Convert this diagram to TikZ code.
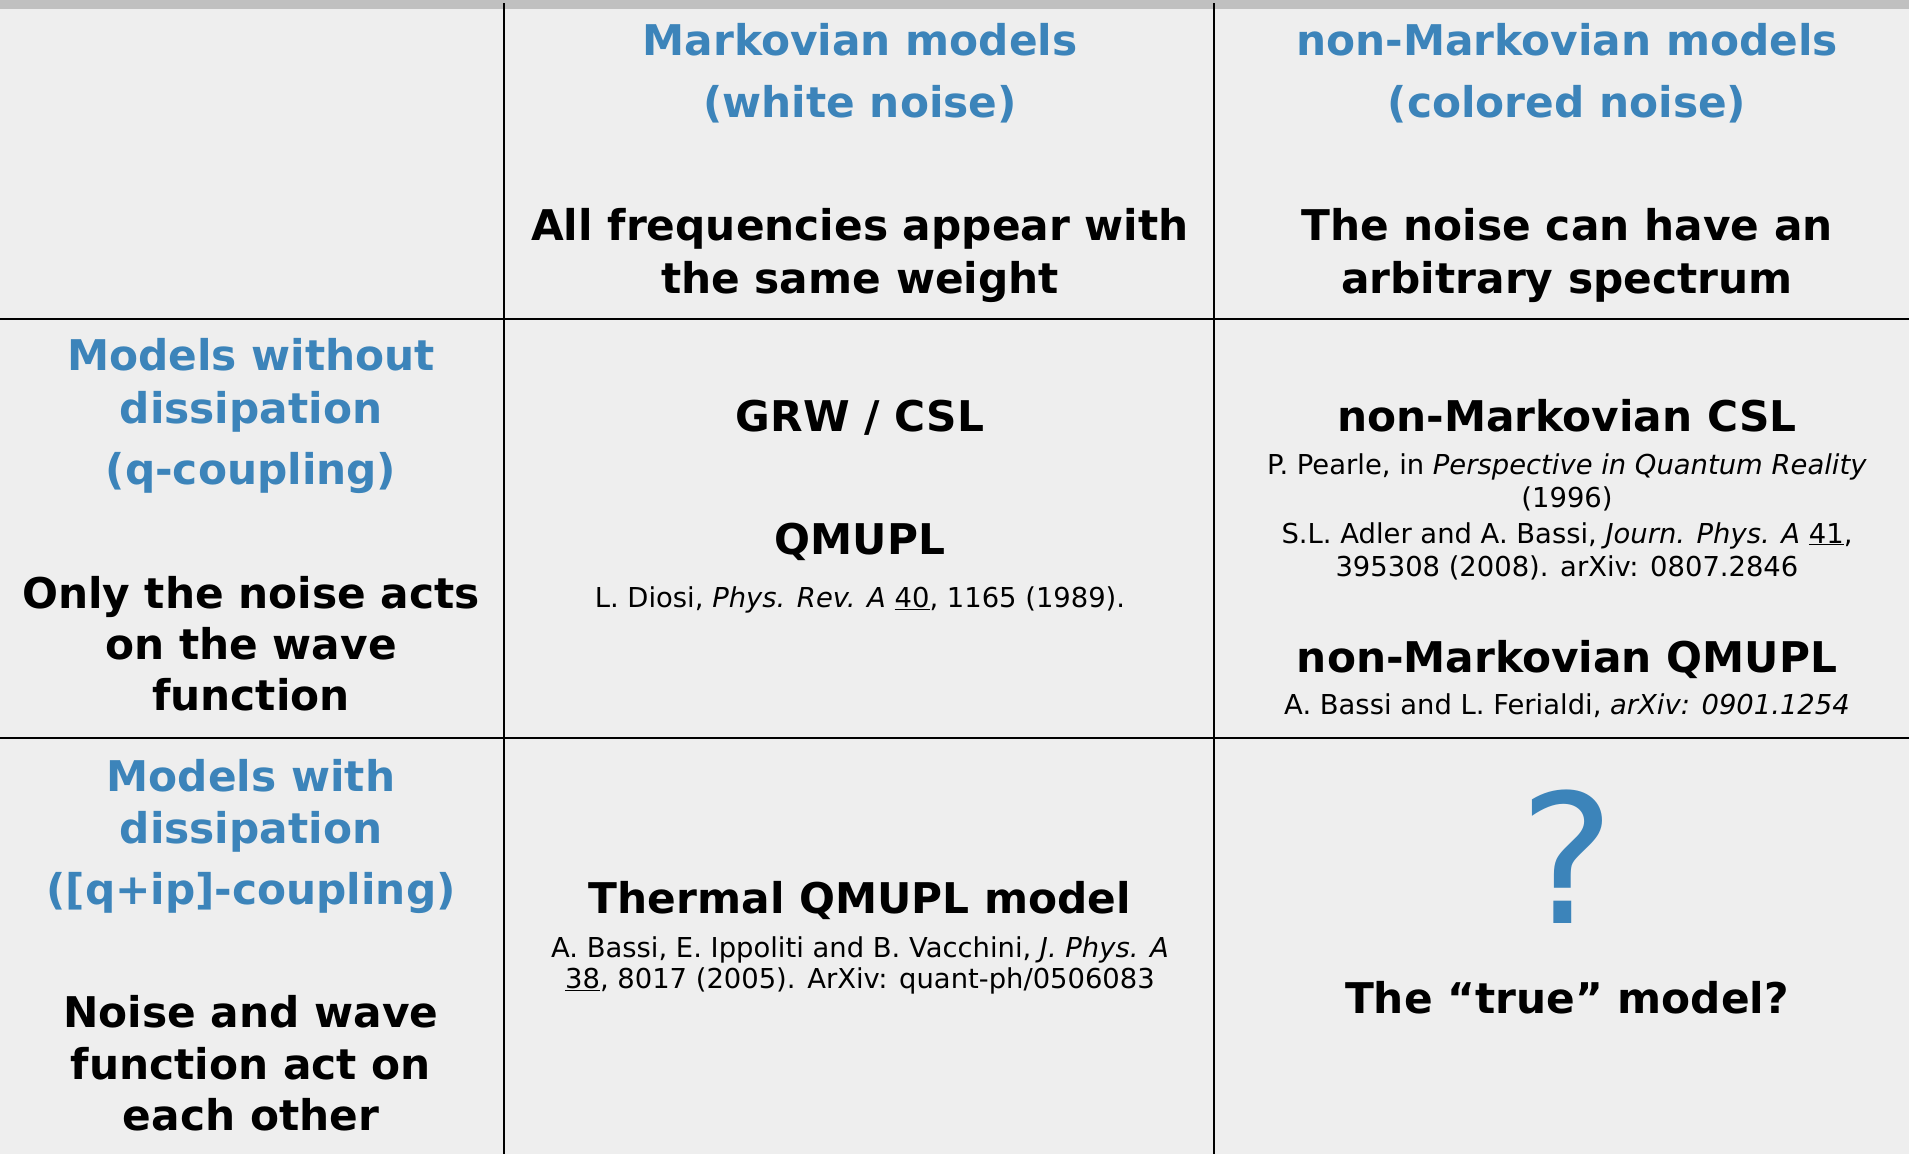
\documentclass[tikz,border=0pt]{standalone}
\usepackage{fontspec}
\setmainfont{DejaVu Sans}
\definecolor{headblue}{RGB}{60,132,186}
\definecolor{panel}{RGB}{238,238,238}
\definecolor{topbar}{RGB}{192,192,192}
\tikzset{
  head/.style={font=\fontsize{42.3}{52}\selectfont\bfseries, anchor=base, inner sep=0pt},
  bluehead/.style={head, text=headblue},
  cite/.style={font=\fontsize{27.4}{33}\selectfont, anchor=base, inner sep=0pt},
  rule/.style={line width=2.6pt, black}
}
\begin{document}
\begin{tikzpicture}[x=1pt,y=-1pt]
  % page and the grey strip along the top
  \fill[panel] (0,0) rectangle (1909,1154);
  \useasboundingbox (0,0) rectangle (1909,1154);
  \fill[topbar] (0,0) rectangle (1909,9);

  % table rules
  \draw[rule] (0,319) -- (1909,319);
  \draw[rule] (0,738) -- (1909,738);
  \draw[rule] (504,3) -- (504,1154);
  \draw[rule] (1214,3) -- (1214,1154);

  % column headers
  \node[bluehead] (mkA) at (860,55)  {Markovian models};
  \node[bluehead] (mkB) at (860,117) {(white noise)};
  \node[head]     (mkC) at (860,240) {All frequencies appear with};
  \node[head]     (mkD) at (860,293) {the same weight};

  \node[bluehead] (nmA) at (1567,55)  {non-Markovian models};
  \node[bluehead] (nmB) at (1567,117) {(colored noise)};
  \node[head]     (nmC) at (1567,240) {The noise can have an};
  \node[head]     (nmD) at (1567,293) {arbitrary spectrum};

  % row headers
  \node[bluehead] (r1A) at (251,370) {Models without};
  \node[bluehead] (r1B) at (251,423) {dissipation};
  \node[bluehead] (r1C) at (251,484) {(q-coupling)};
  \node[head]     (r1D) at (251,608) {Only the noise acts};
  \node[head]     (r1E) at (251,659) {on the wave};
  \node[head]     (r1F) at (251,710) {function};

  \node[bluehead] (r2A) at (251,791)  {Models with};
  \node[bluehead] (r2B) at (251,843)  {dissipation};
  \node[bluehead] (r2C) at (251,904)  {([q+ip]-coupling)};
  \node[head]     (r2D) at (251,1027) {Noise and wave};
  \node[head]     (r2E) at (251,1079) {function act on};
  \node[head]     (r2F) at (251,1130) {each other};

  % no dissipation, white noise
  \node[head] (grw)   at (860,431) {GRW / CSL};
  \node[head] (qmupl) at (860,554) {QMUPL};
  \node[cite] (diosi) at (860,607) {L. Diosi, \textit{Phys. Rev. A} \underline{40}, 1165 (1989).};

  % no dissipation, colored noise
  \node[head] (nmcsl) at (1567,431) {non-Markovian CSL};
  \node[cite] (pea)   at (1567,474) {P. Pearle, in \textit{Perspective in Quantum Reality}};
  \node[cite] (peb)   at (1567,507) {(1996)};
  \node[cite] (ada)   at (1567,543) {S.L. Adler and A. Bassi, \textit{Journ. Phys. A} \underline{41},};
  \node[cite] (adb)   at (1567,576) {395308 (2008). arXiv: 0807.2846};
  \node[head] (nmq)   at (1567,672) {non-Markovian QMUPL};
  \node[cite] (bf)    at (1567,714) {A. Bassi and L. Ferialdi, \textit{arXiv: 0901.1254}};

  % dissipation, white noise
  \node[head] (thq)  at (860,913) {Thermal QMUPL model};
  \node[cite] (biva) at (860,957) {A. Bassi, E. Ippoliti and B. Vacchini, \textit{J. Phys. A}};
  \node[cite] (bivb) at (860,988) {\underline{38}, 8017 (2005). ArXiv: quant-ph/0506083};

  % dissipation, colored noise
  \node[font=\fontsize{180}{180}\selectfont, text=headblue, anchor=base, inner sep=0pt] (qm) at (1567,923) {?};
  \node[head] (truem) at (1567,1013) {The “true” model?};
\end{tikzpicture}
\end{document}
